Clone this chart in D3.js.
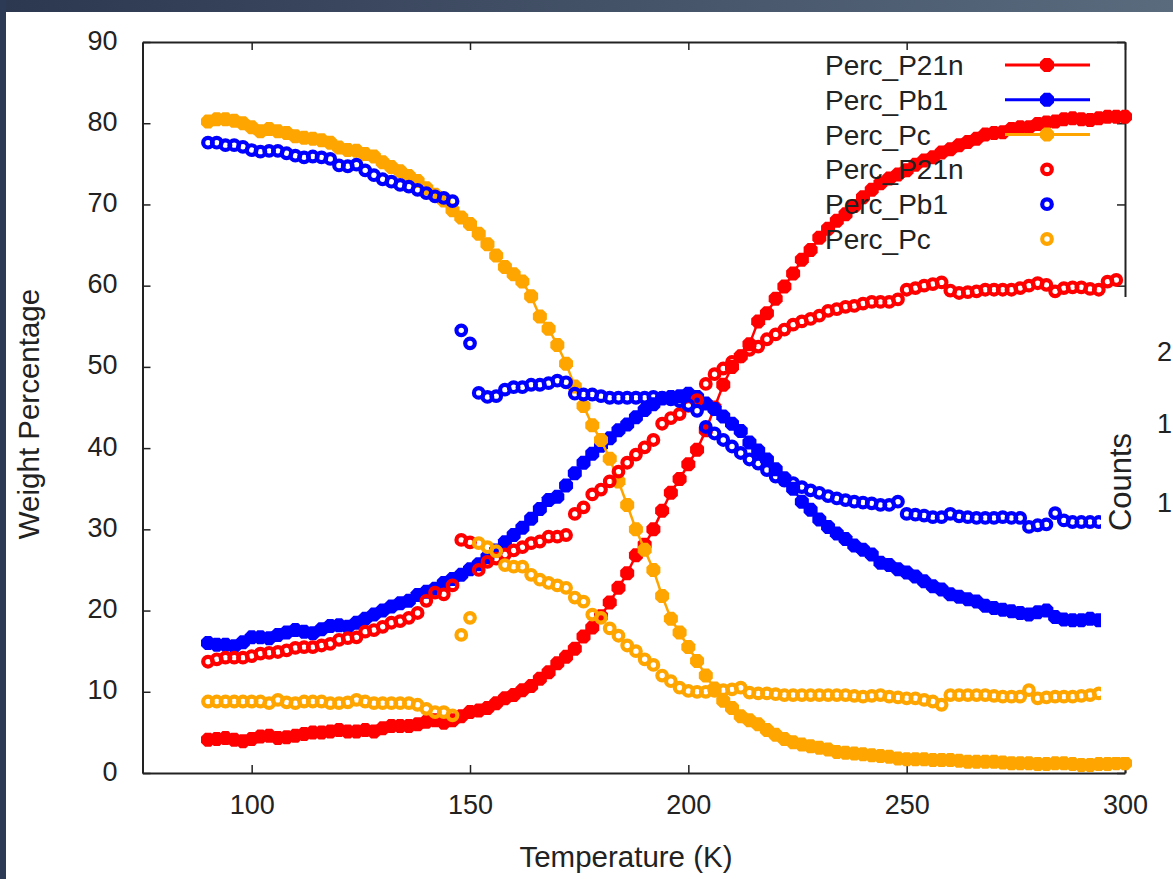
<!DOCTYPE html>
<html>
<head>
<meta charset="utf-8">
<script src="https://cdn.jsdelivr.net/npm/d3@7/dist/d3.min.js"></script>
<style>
  html, body { margin: 0; padding: 0; background: #fff; }
  svg { display: block; font-family: "Liberation Sans", Arial, sans-serif; }
</style>
</head>
<body>
<svg id="chart" width="1173" height="879"></svg>
<script>
// temperature (K), one reading every 2 K
const temps = [
  90, 92, 94, 96, 98, 100, 102, 104, 106, 108,
  110, 112, 114, 116, 118, 120, 122, 124, 126, 128,
  130, 132, 134, 136, 138, 140, 142, 144, 146, 148,
  150, 152, 154, 156, 158, 160, 162, 164, 166, 168,
  170, 172, 174, 176, 178, 180, 182, 184, 186, 188,
  190, 192, 194, 196, 198, 200, 202, 204, 206, 208,
  210, 212, 214, 216, 218, 220, 222, 224, 226, 228,
  230, 232, 234, 236, 238, 240, 242, 244, 246, 248,
  250, 252, 254, 256, 258, 260, 262, 264, 266, 268,
  270, 272, 274, 276, 278, 280, 282, 284, 286, 288,
  290, 292, 294, 296, 298, 300
];

// first set (linespoints)
const percP21nLine = [
  4.1, 4.2, 4.3, 4.1, 3.9, 4.2, 4.5, 4.6, 4.3, 4.4,
  4.6, 4.8, 5.0, 5.0, 5.1, 5.3, 5.1, 5.1, 5.3, 5.1,
  5.5, 5.8, 5.8, 5.8, 6.0, 6.3, 6.5, 6.2, 6.5, 7.0,
  7.5, 7.7, 8.0, 8.6, 9.2, 9.6, 10.2, 10.7, 11.6, 12.4,
  13.5, 14.3, 15.3, 16.8, 17.9, 19.3, 21.0, 22.8, 24.6, 26.8,
  28.1, 30.0, 32.3, 34.5, 36.2, 38.0, 39.8, 42.2, 45.0, 47.8,
  50.0, 51.3, 52.8, 55.6, 56.6, 58.4, 59.9, 61.5, 63.2, 64.4,
  65.9, 67.0, 68.0, 68.8, 69.8, 70.9, 71.8, 72.6, 73.2, 73.7,
  74.2, 74.9, 75.4, 75.8, 76.4, 76.8, 77.3, 77.7, 78.1, 78.6,
  78.8, 78.9, 79.3, 79.5, 79.5, 79.9, 80.1, 80.2, 80.5, 80.6,
  80.5, 80.4, 80.6, 80.8, 80.8, 80.8
];
const percPb1Line = [
  16.0, 15.8, 15.8, 15.6, 16.1, 16.7, 16.7, 16.6, 17.0, 17.3,
  17.6, 17.4, 17.2, 17.7, 18.1, 18.2, 18.0, 18.5, 19.0, 19.5,
  20.0, 20.5, 20.9, 21.2, 21.9, 22.3, 22.7, 23.4, 23.9, 24.4,
  25.1, 25.7, 26.6, 27.4, 28.4, 29.3, 30.2, 31.3, 32.5, 33.6,
  34.0, 35.4, 36.9, 38.2, 39.3, 40.3, 41.2, 42.2, 42.9, 43.8,
  44.7, 45.4, 46.1, 46.3, 46.4, 46.7, 46.3, 45.5, 44.8, 43.9,
  43.0, 42.1, 40.7, 39.7, 38.6, 37.4, 36.3, 35.0, 33.4, 32.4,
  31.2, 30.3, 29.5, 28.8, 28.0, 27.5, 26.9, 25.9, 25.6, 25.1,
  24.7, 24.2, 23.6, 23.0, 22.6, 22.0, 21.7, 21.4, 21.1, 20.6,
  20.3, 20.1, 19.9, 19.7, 19.5, 19.8, 20.0, 19.2, 18.9, 18.8,
  18.8, 19.0, 18.8, null, null, null
];
const percPcLine = [
  80.2, 80.5, 80.5, 80.3, 80.0, 79.5, 79.0, 79.3, 79.0, 78.8,
  78.4, 78.2, 78.1, 77.9, 77.6, 77.0, 76.7, 76.6, 76.2, 75.9,
  75.2, 74.6, 74.1, 73.5, 72.9, 72.0, 71.2, 70.5, 69.3, 68.4,
  67.6, 66.4, 65.1, 63.7, 62.3, 61.4, 60.5, 58.7, 56.2, 54.7,
  52.7, 50.4, 47.6, 45.2, 42.8, 41.0, 38.7, 35.9, 33.0, 30.0,
  27.5, 25.0, 21.8, 19.0, 17.3, 15.5, 13.8, 12.0, 10.4, 8.9,
  8.0, 7.0, 6.5, 6.0, 5.3, 4.7, 4.2, 3.8, 3.5, 3.3,
  3.1, 2.9, 2.6, 2.5, 2.4, 2.3, 2.2, 2.1, 2.0, 1.8,
  1.7, 1.7, 1.7, 1.6, 1.6, 1.6, 1.5, 1.4, 1.4, 1.4,
  1.4, 1.3, 1.2, 1.2, 1.2, 1.1, 1.1, 1.2, 1.2, 1.1,
  1.0, 1.0, 1.1, 1.1, 1.2, 1.2
];

// second set (points only)
const percP21nPts = [
  13.7, 14.0, 14.2, 14.2, 14.2, 14.4, 14.7, 14.8, 14.9, 15.1,
  15.4, 15.5, 15.5, 15.7, 15.9, 16.4, 16.6, 16.7, 17.4, 17.6,
  18.0, 18.5, 18.7, 19.1, 19.7, 21.2, 22.2, 22.0, 23.1, 28.7,
  28.4, 25.0, 26.0, 26.4, 26.9, 27.4, 27.8, 28.3, 28.5, 29.1,
  29.1, 29.3, 31.9, 32.7, 34.3, 34.9, 35.9, 37.1, 38.2, 39.2,
  40.1, 41.0, 43.0, 43.7, 44.2, 45.2, 45.9, 47.9, 49.1, 49.8,
  50.6, 51.3, 52.1, 52.5, 53.4, 54.0, 54.6, 55.2, 55.6, 55.9,
  56.3, 56.9, 57.1, 57.4, 57.5, 57.8, 58.0, 58.0, 58.0, 58.3,
  59.5, 59.7, 60.0, 60.2, 60.4, 59.4, 59.1, 59.2, 59.3, 59.5,
  59.5, 59.5, 59.5, 59.7, 60.0, 60.3, 60.1, 59.3, 59.7, 59.8,
  59.8, 59.6, 59.5, 60.5, 60.7, null
];
const percPb1Pts = [
  77.6, 77.6, 77.3, 77.3, 77.1, 76.7, 76.5, 76.6, 76.6, 76.3,
  76.0, 75.8, 75.9, 75.8, 75.6, 74.8, 74.7, 74.9, 74.2, 73.6,
  73.1, 72.8, 72.4, 72.2, 71.8, 71.4, 71.0, 70.8, 70.4, 54.5,
  52.9, 46.8, 46.3, 46.4, 47.2, 47.5, 47.5, 47.8, 47.8, 48.0,
  48.3, 48.1, 46.7, 46.6, 46.6, 46.4, 46.2, 46.2, 46.2, 46.2,
  46.2, 46.3, 46.2, 46.0, 45.8, 45.3, 44.6, 42.6, 41.8, 41.0,
  40.2, 39.4, 38.6, 38.1, 37.3, 36.5, 36.0, 35.7, 35.2, 34.8,
  34.5, 34.1, 33.8, 33.6, 33.4, 33.3, 33.2, 33.0, 33.0, 33.4,
  31.9, 31.8, 31.7, 31.5, 31.5, 31.9, 31.6, 31.5, 31.4, 31.4,
  31.4, 31.5, 31.4, 31.4, 30.3, 30.5, 30.6, 32.0, 31.1, 30.9,
  30.9, 30.9, 30.9, null, null, null
];
const percPcPts = [
  8.8, 8.8, 8.8, 8.8, 8.8, 8.8, 8.8, 8.6, 9.0, 8.7,
  8.6, 8.8, 8.8, 8.8, 8.6, 8.6, 8.7, 9.0, 8.8, 8.6,
  8.6, 8.6, 8.6, 8.6, 8.4, 7.9, 7.5, 7.5, 7.1, 17.0,
  19.1, 28.3, 27.8, 27.3, 25.6, 25.4, 25.4, 24.4, 23.8, 23.4,
  23.1, 22.8, 21.6, 21.1, 19.5, 19.1, 17.8, 16.9, 15.7, 15.0,
  14.0, 13.3, 12.0, 11.3, 10.5, 10.1, 10.0, 10.0, 10.1, 10.2,
  10.3, 10.5, 9.9, 9.8, 9.8, 9.7, 9.6, 9.6, 9.6, 9.6,
  9.6, 9.6, 9.6, 9.6, 9.5, 9.4, 9.5, 9.6, 9.4, 9.3,
  9.2, 9.2, 9.0, 8.8, 8.4, 9.6, 9.6, 9.6, 9.6, 9.6,
  9.5, 9.4, 9.4, 9.4, 10.2, 9.2, 9.3, 9.4, 9.4, 9.4,
  9.5, 9.6, 9.8, null, null, null
];

const seriesNames = ['Perc_P21n', 'Perc_Pb1', 'Perc_Pc'];
const seriesColors = ['#ff0000', '#0000ff', '#ffa500'];
const xTicks = [100, 150, 200, 250, 300];
const yTicks = [0, 10, 20, 30, 40, 50, 60, 70, 80, 90];
const counterTicks = ['2', '1', '1'];

let svg = d3.select('#chart');
let width = 1173;
let height = 879;

let margin = { left: 142.5, right: 48, top: 42, bottom: 106 };

let x = d3.scaleLinear()
  .domain([75, 300])
  .range([margin.left, width - margin.right]);

let y = d3.scaleLinear()
  .domain([0, 90])
  .range([height - margin.bottom, margin.top]);

// gnuplot-like filled point: a small octagon
let octagon = {
  draw(context, size) {
    let r = Math.sqrt(size) / 2;
    let a = r * 0.42;
    context.moveTo(-a, -r);
    context.lineTo(a, -r);
    context.lineTo(r, -a);
    context.lineTo(r, a);
    context.lineTo(a, r);
    context.lineTo(-a, r);
    context.lineTo(-r, a);
    context.lineTo(-r, -a);
    context.closePath();
  }
};
let filledMark = d3.symbol().type(octagon).size(14 * 14);

// slide frame
let grad = svg.append('defs').append('linearGradient').attr('id', 'topband');
grad.append('stop').attr('offset', '0%').attr('stop-color', '#2c3750');
grad.append('stop').attr('offset', '100%').attr('stop-color', '#5a6b7e');

svg.append('rect').attr('width', width).attr('height', height).attr('fill', '#fff');
svg.append('rect').attr('width', width).attr('height', 12).attr('fill', 'url(#topband)');
svg.append('rect').attr('width', 6).attr('height', height).attr('fill', '#2c3a55');

let plot = svg.append('g');

let axisFont = g => g.selectAll('text')
  .attr('font-size', 27)
  .attr('fill', '#222')
  .attr('font-family', '"Liberation Sans", Arial, sans-serif');

let axisStroke = g => {
  g.selectAll('line').attr('stroke', '#222').attr('stroke-width', 1.5);
  g.select('.domain').attr('stroke', '#222').attr('stroke-width', 2);
};

plot.append('g')
  .attr('transform', `translate(0,${y(0)})`)
  .call(d3.axisBottom(x).tickValues(xTicks).tickSizeInner(-8).tickSizeOuter(0).tickPadding(22))
  .call(axisFont).call(axisStroke);

plot.append('g')
  .attr('transform', `translate(0,${y(90)})`)
  .call(d3.axisTop(x).tickValues(xTicks).tickSizeInner(-8).tickSizeOuter(0).tickFormat(''))
  .call(axisStroke);

plot.append('g')
  .attr('transform', `translate(${x(75)},0)`)
  .call(d3.axisLeft(y).tickValues(yTicks).tickSizeInner(-8).tickSizeOuter(0).tickPadding(25))
  .call(axisFont).call(axisStroke)
  .selectAll('text').attr('dy', '0.26em');

plot.append('g')
  .attr('transform', `translate(${x(300)},0)`)
  .call(d3.axisRight(y).tickValues(yTicks).tickSizeInner(-8).tickSizeOuter(0).tickFormat(''))
  .call(axisStroke);

// axis titles
svg.append('text')
  .attr('x', 626).attr('y', 867)
  .attr('text-anchor', 'middle')
  .attr('font-size', 29.5).attr('fill', '#222')
  .text('Temperature (K)');

svg.append('text')
  .attr('transform', 'translate(39,414) rotate(-90)')
  .attr('text-anchor', 'middle')
  .attr('font-size', 29.5).attr('fill', '#222')
  .text('Weight Percentage');

let pack = vals => temps.map((t, i) => ({ t: t, v: vals[i] })).filter(d => d.v != null);

let lineSets = [percP21nLine, percPb1Line, percPcLine];
let pointSets = [percP21nPts, percPb1Pts, percPcPts];

let line = d3.line()
  .x(d => x(d.t))
  .y(d => y(d.v));

lineSets.forEach((vals, i) => {
  let data = pack(vals);
  let g = plot.append('g');
  g.append('path')
    .datum(data)
    .attr('fill', 'none')
    .attr('stroke', seriesColors[i])
    .attr('stroke-width', 2.5)
    .attr('d', line);
  g.selectAll('path.mark').data(data).enter().append('path')
    .attr('class', 'mark')
    .attr('transform', d => `translate(${x(d.t)},${y(d.v)})`)
    .attr('d', filledMark)
    .attr('fill', seriesColors[i]);
});

pointSets.forEach((vals, i) => {
  let data = pack(vals);
  plot.append('g')
    .selectAll('circle').data(data).enter().append('circle')
    .attr('cx', d => x(d.t))
    .attr('cy', d => y(d.v))
    .attr('r', 4.8)
    .attr('fill', 'none')
    .attr('stroke', seriesColors[i])
    .attr('stroke-width', 4.2);
});

// neighbouring panel that covers the right edge
svg.append('rect')
  .attr('x', 1101).attr('y', 297)
  .attr('width', width - 1101).attr('height', 460)
  .attr('fill', '#fff');

svg.append('text')
  .attr('transform', 'translate(1131,482) rotate(-90)')
  .attr('text-anchor', 'middle')
  .attr('font-size', 31).attr('fill', '#222')
  .text('Counts');

svg.append('g')
  .selectAll('text').data(counterTicks).enter().append('text')
  .attr('x', 1157)
  .attr('y', (d, i) => [361, 433, 512][i])
  .attr('font-size', 27).attr('fill', '#222')
  .text(d => d);

// key
let key = svg.append('g');
let rowY = i => 65 + i * 34.8;

seriesNames.concat(seriesNames).forEach((name, i) => {
  let c = seriesColors[i % 3];
  key.append('text')
    .attr('x', 825).attr('y', rowY(i))
    .attr('dy', '0.36em')
    .attr('font-size', 28).attr('fill', '#222')
    .text(name);
  if (i < 3) {
    key.append('line')
      .attr('x1', 1005).attr('x2', 1090)
      .attr('y1', rowY(i)).attr('y2', rowY(i))
      .attr('stroke', c).attr('stroke-width', 3);
    key.append('path')
      .attr('transform', `translate(1047,${rowY(i)})`)
      .attr('d', filledMark)
      .attr('fill', c);
  } else {
    key.append('circle')
      .attr('cx', 1047).attr('cy', rowY(i)).attr('r', 4.8)
      .attr('fill', 'none')
      .attr('stroke', c).attr('stroke-width', 4.2);
  }
});
</script>
</body>
</html>
